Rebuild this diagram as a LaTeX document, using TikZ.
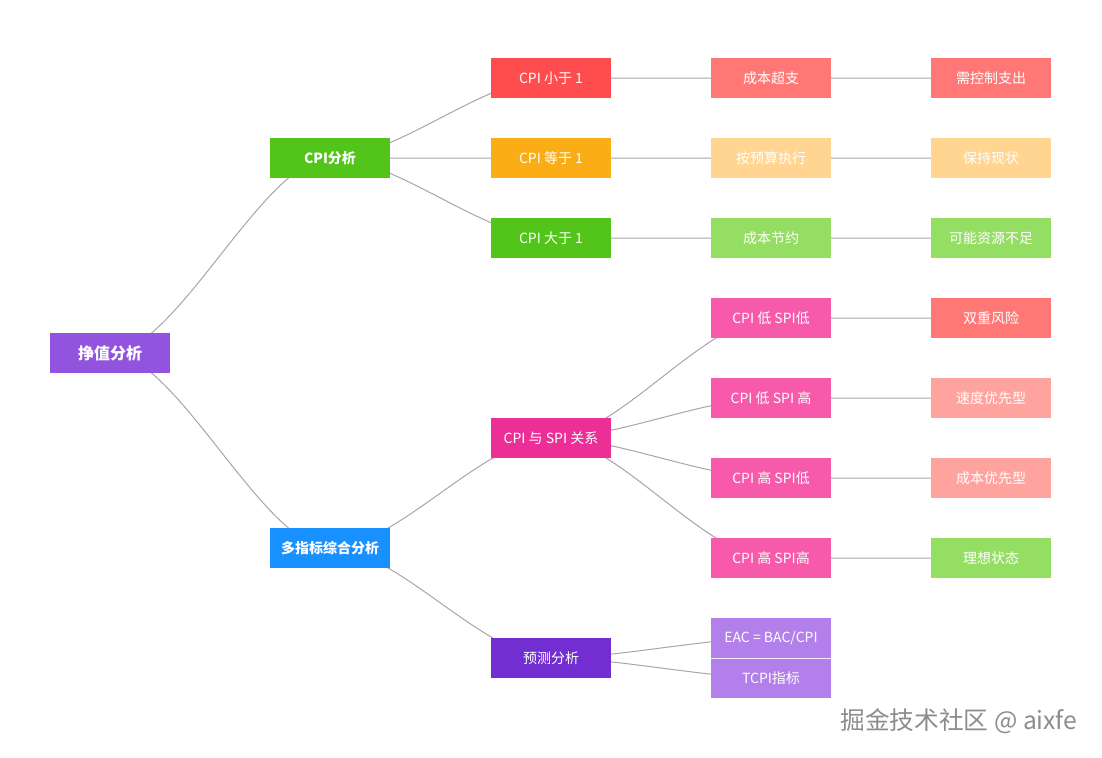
\documentclass[tikz,border=0pt]{standalone}
\usepackage{fontspec}
\setmainfont{Noto Sans CJK SC}
\usetikzlibrary{calc,backgrounds}
\definecolor{rootc}{HTML}{9254DE}
\definecolor{cgreen}{HTML}{52C41A}
\definecolor{cblue}{HTML}{1890FF}
\definecolor{cred}{HTML}{FF4D4F}
\definecolor{corange}{HTML}{FAAD14}
\definecolor{cmagenta}{HTML}{EB2F96}
\definecolor{cpurple}{HTML}{722ED1}
\definecolor{lred}{HTML}{FF7875}
\definecolor{lorange}{HTML}{FFD591}
\definecolor{lgreen}{HTML}{95DE64}
\definecolor{cpink}{HTML}{F759AB}
\definecolor{lpurple}{HTML}{B37FEB}
\definecolor{lsalmon}{HTML}{FFA39E}

\begin{document}
\begin{tikzpicture}[x=0.75pt, y=-0.75pt]
        \tikzstyle{every node}=[rectangle, inner sep=1pt, minimum width=90pt, minimum height=30pt, text=white, font=\fontsize{10.5}{12}\selectfont]
        \tikzstyle{head}=[font=\bfseries\fontsize{10.5}{12}\selectfont]
        \tikzstyle{link}=[to path={.. controls ($(\tikztostart)!0.3!(\tikztostart-|\tikztotarget)$) and ($(\tikztotarget)!0.3!(\tikztotarget-|\tikztostart)$) .. (\tikztotarget)}]
        \useasboundingbox (0,0) rectangle (1102,757);
        % root and first level
        \node [fill=rootc, font=\bfseries\fontsize{12}{14}\selectfont] (root) at (110,353) {挣值分析};
        \node [fill=cgreen, head] (cpi) at (330,158) {CPI分析};
        \node [fill=cblue, head] (multi) at (330,548) {多指标综合分析};
        % second level
        \node [fill=cred] (lt) at (551,78) {CPI 小于 1};
        \node [fill=corange] (eq) at (551,158) {CPI 等于 1};
        \node [fill=cgreen] (gt) at (551,238) {CPI 大于 1};
        \node [fill=cmagenta] (rel) at (551,438) {CPI 与 SPI 关系};
        \node [fill=cpurple] (fc) at (551,658) {预测分析};
        % third level
        \node [fill=lred] (over) at (771,78) {成本超支};
        \node [fill=lorange] (budget) at (771,158) {按预算执行};
        \node [fill=lgreen] (save) at (771,238) {成本节约};
        \node [fill=cpink] (ll) at (771,318) {CPI 低 SPI低};
        \node [fill=cpink] (lh) at (771,398) {CPI 低 SPI 高};
        \node [fill=cpink] (hl) at (771,478) {CPI 高 SPI低};
        \node [fill=cpink] (hh) at (771,558) {CPI 高 SPI高};
        \node [fill=lpurple] (eac) at (771,638) {EAC = BAC/CPI};
        \node [fill=lpurple] (tcpi) at (771,678) {TCPI指标};
        \draw [white!85!lpurple, line width=0.5pt] (eac.south west) -- (eac.south east);
        % fourth level
        \node [fill=lred] (ctrl) at (991,78) {需控制支出};
        \node [fill=lorange] (keep) at (991,158) {保持现状};
        \node [fill=lgreen] (lack) at (991,238) {可能资源不足};
        \node [fill=lred] (risk) at (991,318) {双重风险};
        \node [fill=lsalmon] (speed) at (991,398) {速度优先型};
        \node [fill=lsalmon] (cost) at (991,478) {成本优先型};
        \node [fill=lgreen] (ideal) at (991,558) {理想状态};
        % links
        \begin{scope}[on background layer]
            \foreach \a/\b in {root/cpi, root/multi, cpi/lt, cpi/eq, cpi/gt, multi/rel, multi/fc,
                lt/over, eq/budget, gt/save, rel/ll, rel/lh, rel/hl, rel/hh, fc/eac, fc/tcpi,
                over/ctrl, budget/keep, save/lack, ll/risk, lh/speed, hl/cost, hh/ideal}
                \draw [black!35, line width=0.75pt] (\a.center) to[link] (\b.center);
        \end{scope}
        \node [minimum width=0pt, minimum height=0pt, text=black!45, font=\fontsize{18.5}{20}\selectfont] (mark) at (959,721) {掘金技术社区 @ aixfe};
\end{tikzpicture}
\end{document}
